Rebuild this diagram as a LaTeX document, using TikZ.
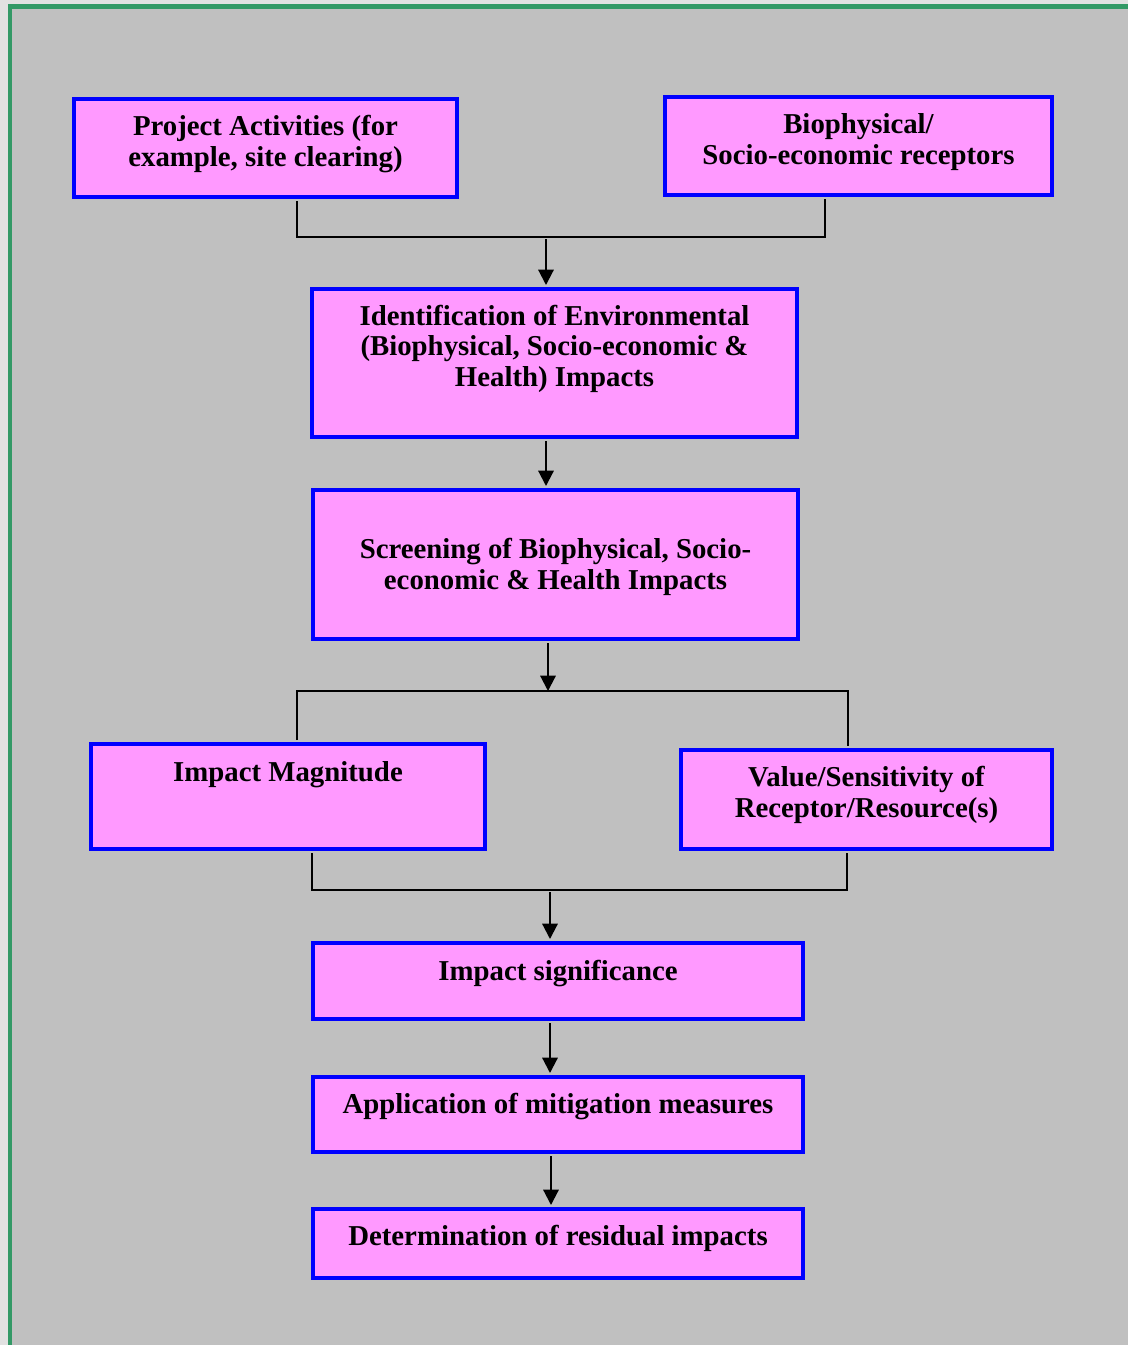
\documentclass[tikz,border=0pt]{standalone}
\usepackage{fontspec}
\setmainfont{Liberation Serif}
\usetikzlibrary{arrows.meta}
\definecolor{bgray}{HTML}{C0C0C0}
\definecolor{lgray}{HTML}{E1E1E1}
\definecolor{gborder}{HTML}{339966}
\definecolor{pinkfill}{HTML}{FF99FF}
\definecolor{boxblue}{HTML}{0000FF}
\begin{document}
\begin{tikzpicture}[x=0.75pt,y=-0.75pt,
  box/.style={draw=boxblue, line width=3pt, fill=pinkfill, inner sep=0pt},
  sz/.style 2 args={minimum width=#1*0.75pt, minimum height=#2*0.75pt},
  txt/.style={anchor=base, align=center, inner sep=0pt, font=\bfseries\fontsize{21.6pt}{23pt}\selectfont},
  conn/.style={draw=black, line width=1.6pt, shorten <=1.5pt},
  arr/.style={conn, shorten >=1.5pt, -{Triangle[width=11.5pt,length=11.5pt]}}]
\useasboundingbox (0,0) rectangle (1128,1345);
\fill[lgray] (0,0) rectangle (1128,1345);
\fill[bgray] (8,4.3) rectangle (1128,1345);
\draw[gborder, line width=3.2pt] (10,1345) -- (10,6.5) -- (1128,6.5);

% boxes
\node[box, sz={383}{98}]  (b1) at (265.5,148) {};
\node[box, sz={387}{98}]  (b2) at (858.5,146) {};
\node[box, sz={485}{148}] (b3) at (554.5,363) {};
\node[box, sz={485}{149}] (b4) at (555.5,564.5) {};
\node[box, sz={394}{105}] (b5) at (288,796.5) {};
\node[box, sz={371}{99}]  (b6) at (866.5,799.5) {};
\node[box, sz={490}{76}]  (b7) at (558,981) {};
\node[box, sz={490}{75}]  (b8) at (558,1114.5) {};
\node[box, sz={490}{69}]  (b9) at (558,1243.5) {};

% texts (anchor = baseline of last line)
\node[txt] (t1) at (265.5,166) {Project Activities (for\\example, site clearing)};
\node[txt] (t2) at (858.5,164) {Biophysical/\\Socio-economic receptors};
\node[txt] (t3) at (554.5,386.5) {Identification of Environmental\\(Biophysical, Socio-economic \&\\Health) Impacts};
\node[txt] (t4) at (555.5,589.5) {Screening of Biophysical, Socio-\\economic \& Health Impacts};
\node[txt] (t5) at (288,781) {Impact Magnitude};
\node[txt] (t6) at (866.5,817.5) {Value/Sensitivity of\\Receptor/Resource(s)};
\node[txt] (t7) at (558,980) {Impact significance};
\node[txt] (t8) at (558,1113) {Application of mitigation measures};
\node[txt] (t9) at (558,1245) {Determination of residual impacts};

% connectors
\coordinate (j1) at (546,237);
\coordinate (j1l) at (297,237);
\coordinate (j1r) at (825,237);
\draw[conn, shorten >=1.5pt] (b1.south -| j1l) -- (j1l) -- (j1r) -- (b2.south -| j1r);
\draw[arr] (j1) -- (b3.north -| j1);

\coordinate (c34) at (546,0);
\draw[arr] (b3.south -| c34) -- (b4.north -| c34);

\coordinate (j2) at (548,691);
\coordinate (j2l) at (297,691);
\coordinate (j2r) at (848,691);
\draw[arr, shorten >=0pt] (b4.south -| j2) -- (j2);
\draw[conn, shorten >=1.5pt] (b5.north -| j2l) -- (j2l) -- (j2r) -- (b6.north -| j2r);

\coordinate (j3) at (550,890);
\coordinate (j3l) at (312,890);
\coordinate (j3r) at (847,890);
\draw[conn, shorten >=1.5pt] (b5.south -| j3l) -- (j3l) -- (j3r) -- (b6.south -| j3r);
\draw[arr] (j3) -- (b7.north -| j3);

\coordinate (c78) at (550,0);
\draw[arr] (b7.south -| c78) -- (b8.north -| c78);
\coordinate (c89) at (551,0);
\draw[arr] (b8.south -| c89) -- (b9.north -| c89);
\end{tikzpicture}
\end{document}
